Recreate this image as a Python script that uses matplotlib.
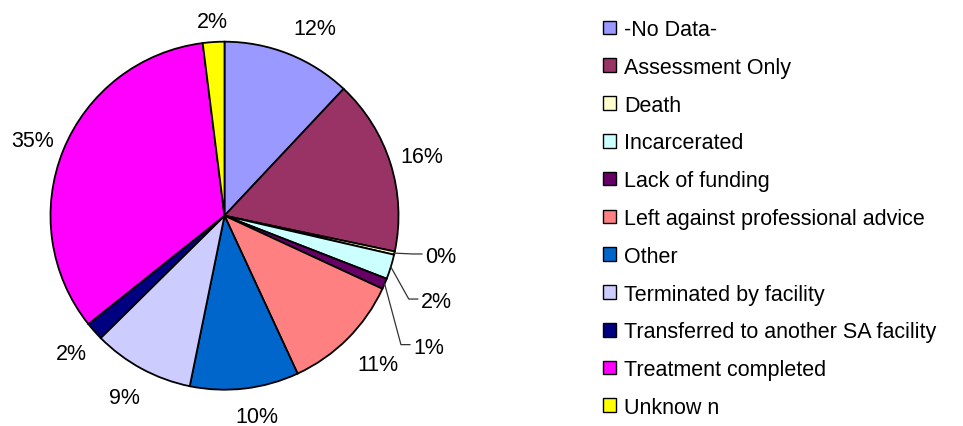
import numpy as np
import matplotlib
matplotlib.use("Agg")
import matplotlib.pyplot as plt
from matplotlib.patches import Patch

plt.rcParams['font.family'] = ['Liberation Sans', 'DejaVu Sans']

categories = ["-No Data-", "Assessment Only", "Death", "Incarcerated",
              "Lack of funding", "Left against professional advice", "Other",
              "Terminated by facility", "Transferred to another SA facility",
              "Treatment completed", "Unknow n"]
shares = [12.0, 16.3, 0.3, 2.3, 1.0, 11.2, 10.1, 9.4, 1.7, 33.7, 2.0]
pct_labels = ["12%", "16%", "0%", "2%", "1%", "11%", "10%", "9%", "2%", "35%", "2%"]
colors = ["#9999FF", "#993366", "#FFFFCC", "#CCFFFF", "#660066", "#FF8080",
          "#0066CC", "#CCCCFF", "#000080", "#FF00FF", "#FFFF00"]

W, H = 963, 427
cx, cy, R = 224.5, 216.7, 174.0   # pie centre / radius in pixels
FS = 15.5

fig = plt.figure(figsize=(W / 100, H / 100), dpi=100)
ax = fig.add_axes([0, 0, 1, 1])

wedges, _ = ax.pie(shares, colors=colors, startangle=90, counterclock=False,
                   wedgeprops=dict(edgecolor="black", linewidth=1.3))

# text left edges for the thin slices that get leader lines (pie units)
leader = {2: (1.152, -0.220), 3: (1.128, -0.479), 4: (1.083, -0.741)}
# small shifts (clockwise degrees, extra px) that the original layout used
nudge = {0: (4.0, 10), 5: (-1.4, 8), 6: (-2.5, 3), 7: (0.7, 5)}
hw, hh, gap = 20 / R, 9 / R, 14 / R
for i, w in enumerate(wedges):
    mid = (w.theta1 + w.theta2) / 2
    ang = np.deg2rad(mid)
    ex, ey = np.cos(ang), np.sin(ang)
    if i in leader:
        tx, ty = leader[i]
        elbow_x = tx - 12 / R
        ax.plot([ex, elbow_x, tx - 3 / R], [ey, ty, ty], color="#333333", lw=0.9)
        ax.text(tx, ty, pct_labels[i], ha="left", va="center_baseline", fontsize=FS)
    else:
        dang, dpx = nudge.get(i, (0, 0))
        a = np.deg2rad(mid - dang)
        lx, ly = np.cos(a), np.sin(a)
        d = 1 + gap + np.hypot(hw * lx, hh * ly) + dpx / R
        ax.text(d * lx, d * ly, pct_labels[i], ha="center", va="center_baseline",
                fontsize=FS)

ax.set_xlim(-cx / R, (W - cx) / R)
ax.set_ylim((cy - H) / R, cy / R)
ax.set_aspect("auto")
ax.axis("off")

handles = [Patch(facecolor=c, edgecolor="black", linewidth=1.0) for c in colors]
fig.legend(handles, categories, loc="upper left", bbox_to_anchor=(603 / W, 1 - 20 / H),
           frameon=False, fontsize=FS, handlelength=0.6, handleheight=0.6,
           handletextpad=0.37, labelspacing=0.78, borderaxespad=0, borderpad=0)

fig.savefig("out.png", dpi=100)
